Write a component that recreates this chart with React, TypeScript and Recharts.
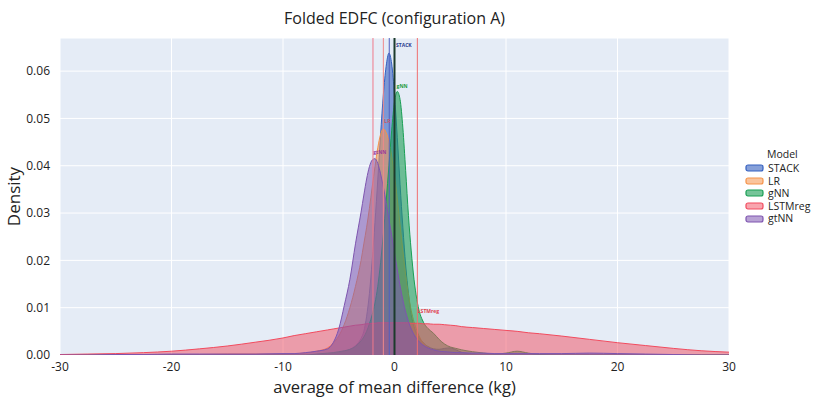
import {
  ComposedChart, Area, XAxis, YAxis, CartesianGrid, ReferenceLine, ReferenceDot,
} from 'recharts';

// x grid (kg) shared by all density curves
const xs = [
  -30, -27.5, -25, -22.5, -20, -17.5, -15, -12.5, -10, -9, -8, -7, -6, -5.5, -5, -4.5, -4, -3.5, -3, -2.75,
  -2.5, -2.25, -2, -1.75, -1.5, -1.25, -1, -0.75, -0.5, -0.25, 0, 0.25, 0.5, 0.75, 1, 1.25, 1.5, 1.75, 2, 2.25,
  2.5, 2.75, 3, 3.5, 4, 4.5, 5, 5.5, 6, 7, 8, 9, 10, 11, 12, 13, 15, 17.5, 20, 22.5, 25, 27.5, 30,
];

const stack = [
  0, 0, 0, 0, 0, 0, 0, 0, 0, 0, 0, 0, 0.0002, 0.0003, 0.0005, 0.0008, 0.0012, 0.002, 0.0035, 0.005,
  0.0082, 0.013, 0.02, 0.028, 0.037, 0.0465, 0.055, 0.061, 0.0638, 0.0615, 0.055, 0.046, 0.036, 0.027, 0.019, 0.013, 0.0085, 0.006, 0.0045, 0.0035,
  0.0028, 0.0022, 0.0018, 0.0013, 0.0012, 0.0014, 0.0015, 0.0011, 0.0006, 0.0002, 0, 0, 0, 0, 0, 0, 0, 0, 0, 0, 0, 0, 0,
];

const lr = [
  0, 0, 0, 0.0001, 0.0001, 0.0001, 0.0002, 0.0002, 0.0002, 0.0003, 0.0004, 0.0008, 0.0015, 0.0025, 0.004, 0.0065, 0.01, 0.0145, 0.02, 0.0235,
  0.027, 0.031, 0.0355, 0.0398, 0.0438, 0.0466, 0.0478, 0.047, 0.0452, 0.042, 0.038, 0.033, 0.0275, 0.022, 0.017, 0.0128, 0.0094, 0.007, 0.0052, 0.0038,
  0.0028, 0.0021, 0.0016, 0.001, 0.0007, 0.0005, 0.0004, 0.0003, 0.0002, 0.0001, 0.0001, 0, 0, 0, 0, 0, 0, 0, 0, 0, 0, 0, 0,
];

const gnn = [
  0, 0, 0, 0, 0, 0, 0, 0, 0, 0, 0, 0.0002, 0.0004, 0.0005, 0.0007, 0.0009, 0.0012, 0.0018, 0.003, 0.0038,
  0.005, 0.0066, 0.0085, 0.011, 0.0145, 0.0195, 0.0255, 0.0325, 0.04, 0.0475, 0.0535, 0.0557, 0.054, 0.048, 0.039, 0.0295, 0.022, 0.016, 0.0118, 0.009,
  0.0074, 0.0063, 0.0056, 0.0046, 0.0033, 0.0023, 0.0017, 0.0014, 0.0011, 0.0007, 0.0004, 0.0002, 0.0004, 0.0008, 0.0004, 0.0001, 0, 0, 0, 0, 0, 0, 0,
];

const lstmreg = [
  0.0001, 0.0002, 0.0003, 0.0005, 0.0008, 0.0013, 0.0019, 0.0027, 0.0036, 0.0041, 0.0045, 0.0049, 0.0053, 0.0055, 0.0057, 0.0059, 0.0061, 0.0063, 0.0064, 0.0065,
  0.0066, 0.0066, 0.0067, 0.0067, 0.0068, 0.0068, 0.0068, 0.0068, 0.0068, 0.0068, 0.0068, 0.0068, 0.0068, 0.0068, 0.0068, 0.0068, 0.0067, 0.0067, 0.0067, 0.0067,
  0.0066, 0.0066, 0.0066, 0.0065, 0.0065, 0.0064, 0.0063, 0.0062, 0.006, 0.0058, 0.0056, 0.0054, 0.0052, 0.005, 0.0047, 0.0045, 0.004, 0.0033, 0.0026, 0.002, 0.0014, 0.0009, 0.0006,
];

const gtnn = [
  0, 0, 0.0001, 0.0001, 0.0002, 0.0002, 0.0002, 0.0002, 0.0003, 0.0003, 0.0005, 0.0008, 0.0013, 0.0026, 0.0055, 0.0105, 0.016, 0.0235, 0.0302, 0.0338,
  0.0372, 0.0398, 0.0412, 0.0415, 0.0405, 0.0383, 0.0355, 0.0322, 0.0287, 0.0252, 0.0216, 0.018, 0.0146, 0.0116, 0.0091, 0.0071, 0.0055, 0.0043, 0.0034, 0.0027,
  0.0022, 0.0018, 0.0015, 0.0011, 0.0008, 0.0007, 0.0006, 0.0005, 0.0005, 0.0004, 0.0004, 0.0003, 0.0003, 0.0003, 0.0003, 0.0003, 0.0003, 0.0004, 0.0003, 0.0002, 0.0001, 0, 0,
];

const xTicks = [-30, -20, -10, 0, 10, 20, 30];
const yTicks = [0, 0.01, 0.02, 0.03, 0.04, 0.05, 0.06];

// model name, colour, fill opacity
const models = [
  { key: 'STACK', color: '#3560c0', op: 0.6 },
  { key: 'LR', color: '#f5934a', op: 0.55 },
  { key: 'gNN', color: '#1a9f55', op: 0.6 },
  { key: 'LSTMreg', color: '#f24b5e', op: 0.5 },
  { key: 'gtNN', color: '#7e55b0', op: 0.55 },
];

// vertical marker lines and their labels
const markerLines = [
  { x: -1.93, color: '#f07a8a' },
  { x: -1.0, color: '#f08a8a' },
  { x: -0.47, color: '#5060c0' },
  { x: 2.05, color: '#f07070' },
];
const markerLabels = [
  { name: 'STACK', x: 0.05, y: 0.0655, color: '#2a3a8f' },
  { name: 'gNN', x: 0.1, y: 0.0568, color: '#1a9a3a' },
  { name: 'LR', x: -1.0, y: 0.0495, color: '#c05a6a' },
  { name: 'gtNN', x: -2.0, y: 0.0428, color: '#9a3a9a' },
  { name: 'LSTMreg', x: 2.0, y: 0.0092, color: '#e04050' },
];

const data = xs.map((x, i) => ({
  x, STACK: stack[i], LR: lr[i], gNN: gnn[i], LSTMreg: lstmreg[i], gtNN: gtnn[i],
}));

const font = '"Open Sans", sans-serif';
const txt = '#222';

const LegendBox = () => (
  <div style={{
    position: 'absolute', left: 745, top: 147, fontFamily: font, fontSize: 10.5, color: txt,
  }}>
    <div style={{ paddingLeft: 22, height: 15, lineHeight: '15px' }}>Model</div>
    {models.map((m) => (
      <div key={m.key} style={{ display: 'flex', alignItems: 'center', height: 12.6, lineHeight: '12.6px' }}>
        <svg width={20} height={10} style={{ marginRight: 3, display: 'block' }}>
          <rect x={1} y={2} width={17} height={6} rx={2}
            fill={m.color} fillOpacity={m.op} stroke={m.color} strokeWidth={1.2} />
        </svg>
        <span>{m.key}</span>
      </div>
    ))}
  </div>
);

export default function App() {
  return (
    <div style={{ position: 'absolute', left: 0, top: 0, width: 819, height: 397, background: '#fff' }}>
      <div style={{
        position: 'absolute', left: 0, width: 789, top: 7, textAlign: 'center',
        fontFamily: font, fontSize: 16, color: txt,
      }}>
        Folded EDFC (configuration A)
      </div>
      <ComposedChart width={819} height={397} data={data}
        margin={{ top: 38, right: 90, bottom: 0, left: 0 }}>
        <CartesianGrid fill="#e5ecf6" stroke="#ffffff" strokeWidth={1} />
        <XAxis dataKey="x" type="number" domain={[-30, 30]} ticks={xTicks} allowDataOverflow
          height={42} tickLine={false} axisLine={false}
          tick={{ fontSize: 12, fill: txt, fontFamily: font }} tickMargin={1}
          label={{ value: 'average of mean difference (kg)', position: 'insideBottom', offset: 4,
            style: { fontSize: 16.5, fill: txt, fontFamily: font } }} />
        <YAxis type="number" domain={[0, 0.067]} ticks={yTicks} allowDataOverflow width={60}
          tickLine={false} axisLine={false} tickFormatter={(v: number) => v.toFixed(2)}
          tick={{ fontSize: 12, fill: txt, fontFamily: font }} tickMargin={4}
          label={{ value: 'Density', angle: -90, position: 'insideLeft', offset: 14,
            style: { fontSize: 17, fill: txt, fontFamily: font, textAnchor: 'middle' } }} />
        {models.map((m) => (
          <Area key={m.key} type="monotone" dataKey={m.key} name={m.key}
            stroke={m.color} strokeWidth={1} fill={m.color} fillOpacity={m.op}
            isAnimationActive={false} dot={false} activeDot={false} />
        ))}
        {markerLines.map((l) => (
          <ReferenceLine key={l.x} x={l.x} stroke={l.color} strokeWidth={1} />
        ))}
        <ReferenceLine x={0} stroke="#1c3b2c" strokeWidth={2} />
        {markerLabels.map((l) => (
          <ReferenceDot key={l.name} x={l.x} y={l.y} r={0} stroke="none" fill="none"
            label={{ value: l.name, position: 'right', offset: 1, fontSize: 5, fontWeight: 'bold',
              fill: l.color, fontFamily: font }} />
        ))}
      </ComposedChart>
      <LegendBox />
    </div>
  );
}
